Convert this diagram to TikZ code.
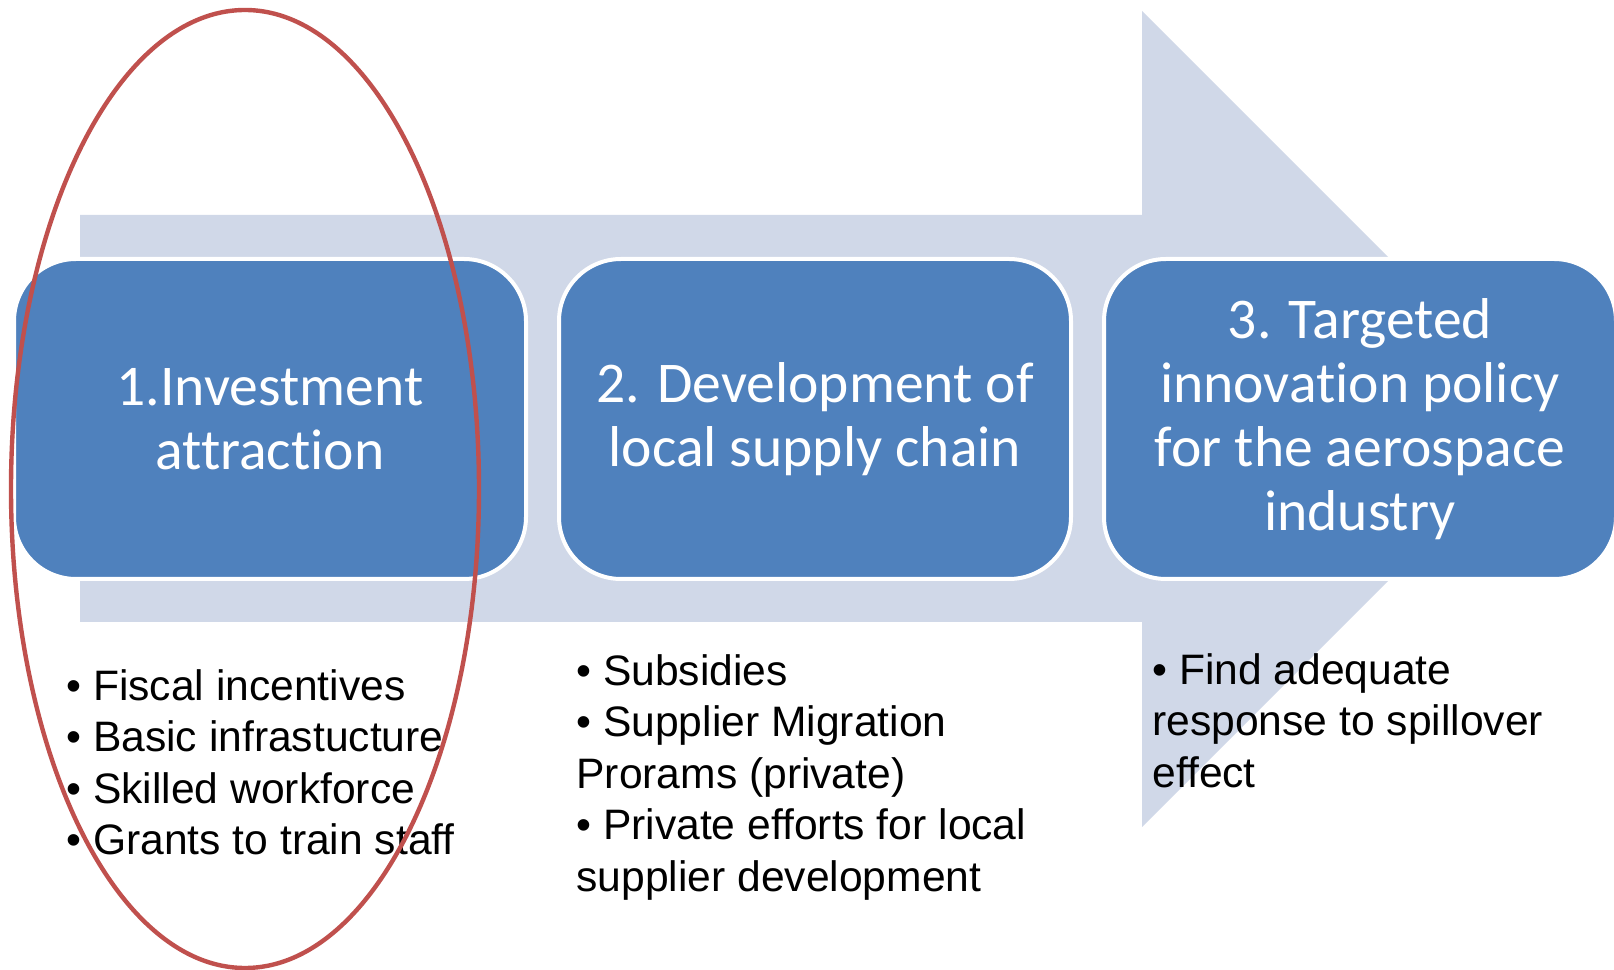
\documentclass[tikz,border=0pt]{standalone}
\usepackage{fontspec}
\setmainfont{Liberation Sans}
\newfontfamily\boxfont[Ligatures={NoCommon,NoContextual}]{Carlito}
% t und i getrennt setzen (keine Ligatur)
\newcommand{\tsep}{t\kern0pt}
\definecolor{stepblue}{HTML}{4F81BD}
\definecolor{arrowgray}{HTML}{D0D8E8}
\definecolor{markred}{HTML}{C0504D}

\begin{document}
\begin{tikzpicture}[x=0.5pt, y=0.5pt,
				stepbox/.style={draw=white, line width=2pt, fill=stepblue, rounded corners=31pt,
					minimum width=256pt, minimum height=160pt, inner sep=0pt,
					text=white, align=center, font=\boxfont\fontsize{28.8}{32}\selectfont},
				itemlist/.style={anchor=north west, align=left, inner sep=0pt,
					font=\fontsize{21.3}{25.75}\selectfont}]
				% Bildbereich
				\useasboundingbox[fill=white] (0,0) rectangle (1614,970);
				% grosser Pfeil im Hintergrund
				\fill[arrowgray] (80,755) -- (1142,755) -- (1142,959) -- (1550,551)
					-- (1142,143) -- (1142,348) -- (80,348) -- cycle;
				% die drei Stufen
				\node[stepbox] (invest) at (270,551) {1.Investment\\attrac\tsep ion};
				\node[stepbox] (supply) at (815,551) {2. Development of\\local supply chain};
				\node[stepbox] (innov) at (1360,551) {3. Targeted\\innova\tsep ion policy\\for the aerospace\\industry};
				% Massnahmen unter den Stufen
				\node[itemlist] (investlist) at (66,301)
					{\textbullet\ Fiscal incentives\\\textbullet\ Basic infrastucture\\\textbullet\ Skilled workforce\\\textbullet\ Grants to train staff};
				\node[itemlist] (supplylist) at (576,316)
					{\textbullet\ Subsidies\\\textbullet\ Supplier Migration\\Prorams (private)\\\textbullet\ Private efforts for local\\supplier development};
				\node[itemlist] (innovlist) at (1152,317)
					{\textbullet\ Find adequate\\response to spillover\\effect};
				% Markierung der ersten Stufe
				\draw[markred, line width=2.2pt] (245,481) ellipse [x radius=234, y radius=479];
			\end{tikzpicture}
\end{document}
